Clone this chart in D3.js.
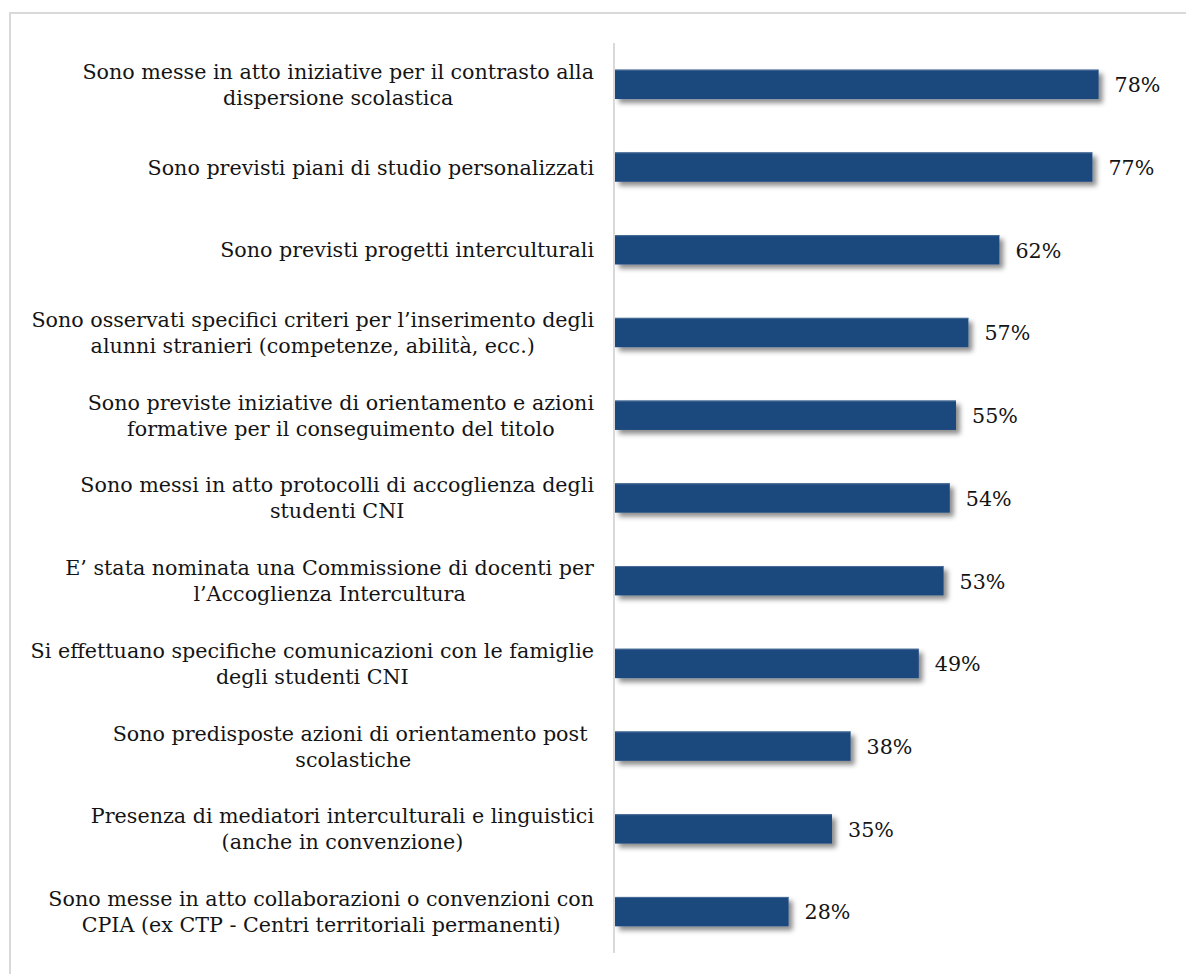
<!DOCTYPE html>
<html>
<head>
<meta charset="utf-8">
<script src="https://cdn.jsdelivr.net/npm/d3@7"></script>
<style>
  html, body { margin: 0; padding: 0; background: #fff; }
  svg { display: block; }
</style>
</head>
<body>
<svg id="chart" width="1186" height="974"></svg>
<script>
// Categories (each entry is the list of wrapped lines of the label)
const categories = [
  ["Sono messe in atto iniziative per il contrasto alla", "dispersione scolastica"],
  ["Sono previsti piani di studio personalizzati"],
  ["Sono previsti progetti interculturali"],
  ["Sono osservati specifici criteri per l\u2019inserimento degli", "alunni stranieri (competenze, abilit\u00e0, ecc.)"],
  ["Sono previste iniziative di orientamento e azioni", "formative per il conseguimento del titolo"],
  ["Sono messi in atto protocolli di accoglienza degli", "studenti CNI"],
  ["E\u2019 stata nominata una Commissione di docenti per", "l\u2019Accoglienza Intercultura"],
  ["Si effettuano specifiche comunicazioni con le famiglie", "degli studenti CNI"],
  ["Sono predisposte azioni di orientamento post ", "scolastiche"],
  ["Presenza di mediatori interculturali e linguistici", "(anche in convenzione)"],
  ["Sono messe in atto collaborazioni o convenzioni con", "CPIA (ex CTP - Centri territoriali permanenti)"]
];
const values = [0.78, 0.77, 0.62, 0.57, 0.55, 0.54, 0.53, 0.49, 0.38, 0.35, 0.28];

const svg = d3.select("#chart");
const fontFamily = "'DejaVu Serif', 'Liberation Serif', serif";

// Outer frame
svg.append("rect")
  .attr("x", 10).attr("y", 13)
  .attr("width", 1200).attr("height", 1000)
  .attr("fill", "none")
  .attr("stroke", "#d9d9d9")
  .attr("stroke-width", 2);

// Drop shadow for bars
const defs = svg.append("defs");
const f = defs.append("filter").attr("id", "barShadow")
  .attr("x", "-5%").attr("y", "-30%").attr("width", "115%").attr("height", "190%");
f.append("feDropShadow")
  .attr("dx", 4).attr("dy", 4).attr("stdDeviation", 2.6)
  .attr("flood-color", "#000").attr("flood-opacity", 0.45);

const plotLeft = 615;
const x = d3.scaleLinear().domain([0, 1]).range([plotLeft, plotLeft + 620]);
const y = d3.scaleBand()
  .domain(d3.range(categories.length))
  .range([43, 953])
  .paddingInner(0.645)
  .paddingOuter(0.3225);

// Font size chosen so the first label line spans the intended width
const probe = svg.append("text").attr("font-family", fontFamily).attr("font-size", 100)
  .text(categories[0][0]);
const probeW = probe.node().getComputedTextLength();
probe.remove();
const fontSize = Math.min(21, 512 / probeW * 100);
const lineH = 26;

// Bars
svg.append("g").selectAll("rect")
  .data(values)
  .join("rect")
  .attr("x", x(0))
  .attr("y", (d, i) => y(i))
  .attr("width", d => x(d) - x(0))
  .attr("height", y.bandwidth())
  .attr("fill", "#1f497d")
  .attr("filter", "url(#barShadow)");

// Thin lighter top edge of each bar
svg.append("g").selectAll("line")
  .data(values)
  .join("line")
  .attr("x1", x(0))
  .attr("x2", d => x(d))
  .attr("y1", (d, i) => y(i) + 0.5)
  .attr("y2", (d, i) => y(i) + 0.5)
  .attr("stroke", "#4a6d98")
  .attr("stroke-width", 1);

// Vertical category axis line
svg.append("line")
  .attr("x1", plotLeft - 1).attr("x2", plotLeft - 1)
  .attr("y1", 43).attr("y2", 953)
  .attr("stroke", "#d9d9d9")
  .attr("stroke-width", 2);

// Category labels: right-aligned block, lines centred within block
const labelRight = plotLeft - 21;
const labels = svg.append("g")
  .attr("font-family", fontFamily)
  .attr("font-size", fontSize)
  .attr("fill", "#141414");

categories.forEach((lines, i) => {
  const cy = y(i) + y.bandwidth() / 2;
  const g = labels.append("g");
  const texts = lines.map(ln => g.append("text")
    .attr("xml:space", "preserve")
    .style("white-space", "pre")
    .text(ln));
  const widths = texts.map(t => t.node().getComputedTextLength());
  const blockW = d3.max(widths);
  const center = labelRight - blockW / 2;
  const n = lines.length;
  texts.forEach((t, k) => {
    t.attr("x", center).attr("text-anchor", "middle")
     .attr("y", cy + (k - (n - 1) / 2) * lineH + fontSize * 0.36);
  });
});

// Value labels
svg.append("g")
  .attr("font-family", fontFamily)
  .attr("font-size", fontSize)
  .attr("fill", "#141414")
  .selectAll("text")
  .data(values)
  .join("text")
  .attr("x", d => x(d) + 16)
  .attr("y", (d, i) => y(i) + y.bandwidth() / 2 + fontSize * 0.38)
  .text(d => d3.format(".0%")(d));
</script>
</body>
</html>
